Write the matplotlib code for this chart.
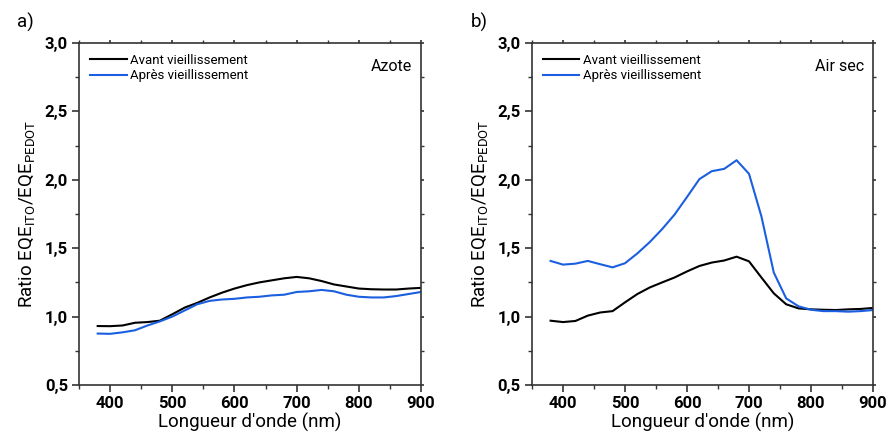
import numpy as np
import matplotlib
matplotlib.use("Agg")
import matplotlib.pyplot as plt
from matplotlib.ticker import MultipleLocator, FuncFormatter

plt.rcParams['font.family'] = ['Roboto', 'DejaVu Sans']
plt.rcParams['mathtext.fontset'] = 'custom'
plt.rcParams['mathtext.rm'] = 'Roboto'

wl = [380, 400, 420, 440, 460, 480, 500, 520, 540, 560, 580, 600, 620, 640, 660,
      680, 700, 720, 740, 760, 780, 800, 820, 840, 860, 880, 900]

# a) Azote
azote_avant = [0.931, 0.930, 0.935, 0.955, 0.960, 0.970, 1.017, 1.066, 1.100, 1.140,
               1.175, 1.205, 1.230, 1.250, 1.265, 1.280, 1.290, 1.280, 1.260, 1.235,
               1.220, 1.205, 1.200, 1.198, 1.198, 1.205, 1.210]
azote_apres = [0.876, 0.874, 0.885, 0.900, 0.935, 0.965, 1.000, 1.045, 1.090, 1.115,
               1.125, 1.130, 1.140, 1.145, 1.155, 1.160, 1.180, 1.185, 1.195, 1.185,
               1.160, 1.145, 1.140, 1.140, 1.150, 1.165, 1.180]

# b) Air sec
air_avant = [0.970, 0.960, 0.968, 1.007, 1.030, 1.040, 1.104, 1.165, 1.213, 1.250,
             1.286, 1.330, 1.370, 1.395, 1.410, 1.438, 1.404, 1.286, 1.170, 1.090,
             1.060, 1.053, 1.050, 1.048, 1.053, 1.056, 1.063]
air_apres = [1.407, 1.380, 1.387, 1.407, 1.383, 1.360, 1.390, 1.462, 1.545, 1.640,
             1.746, 1.874, 2.005, 2.063, 2.080, 2.143, 2.044, 1.733, 1.322, 1.133,
             1.075, 1.050, 1.040, 1.040, 1.036, 1.040, 1.048]

labels = ['Avant vieillissement', 'Après vieillissement']
colors = ['black', '#1a5fe0']

fig = plt.figure(figsize=(8.89, 4.37), dpi=100)
ax1 = fig.add_axes([0.0889, 0.119, 0.3847, 0.7826])
ax2 = fig.add_axes([0.5984, 0.119, 0.3836, 0.7826])

comma = FuncFormatter(lambda v, p: ('%.1f' % v).replace('.', ','))

panels = [(ax1, azote_avant, azote_apres, 'Azote', 'a)'),
          (ax2, air_avant, air_apres, 'Air sec', 'b)')]

for ax, avant, apres, name, letter in panels:
    ax.plot(wl, avant, color=colors[0], lw=1.5, label=labels[0])
    ax.plot(wl, apres, color=colors[1], lw=1.5, label=labels[1])
    ax.set_xlim(350, 900)
    ax.set_ylim(0.5, 3.0)
    ax.xaxis.set_major_locator(MultipleLocator(100))
    ax.xaxis.set_minor_locator(MultipleLocator(50))
    ax.yaxis.set_major_locator(MultipleLocator(0.5))
    ax.yaxis.set_minor_locator(MultipleLocator(0.25))
    ax.yaxis.set_major_formatter(comma)
    ax.tick_params(which='major', direction='out', length=5, width=1.2,
                   color='#333333', labelsize=12, pad=3)
    ax.tick_params(which='minor', direction='out', length=3, width=1.0, color='#333333')
    ax.tick_params(which='both', top=True, right=True)
    for lab in ax.get_xticklabels() + ax.get_yticklabels():
        lab.set_fontweight('bold')
    for s in ax.spines.values():
        s.set_color('#333333')
        s.set_linewidth(1.2)
    ax.set_xlabel("Longueur d'onde (nm)", fontsize=13.5, labelpad=1)
    ax.set_ylabel(r'Ratio EQE$_{\mathregular{ITO}}$/EQE$_{\mathregular{PEDOT}}$',
                  fontsize=13.5, labelpad=5)
    ax.legend(loc='upper left', frameon=False, fontsize=9.5, handlelength=2.8,
              handletextpad=0.3, labelspacing=0.2, borderaxespad=0.4)
    ax.text(0.975, 0.93, name, transform=ax.transAxes, ha='right', va='center',
            fontsize=11.5)
    ax.text(-0.18, 1.06, letter, transform=ax.transAxes, ha='left', va='center',
            fontsize=13.5)

# mirrored ticks on top/right are drawn short
for ax in (ax1, ax2):
    for t in ax.xaxis.get_major_ticks() + ax.xaxis.get_minor_ticks():
        t.tick2line.set_markersize(2.5)
    for t in ax.yaxis.get_major_ticks() + ax.yaxis.get_minor_ticks():
        t.tick2line.set_markersize(2.5)

fig.savefig('out.png', dpi=100)
